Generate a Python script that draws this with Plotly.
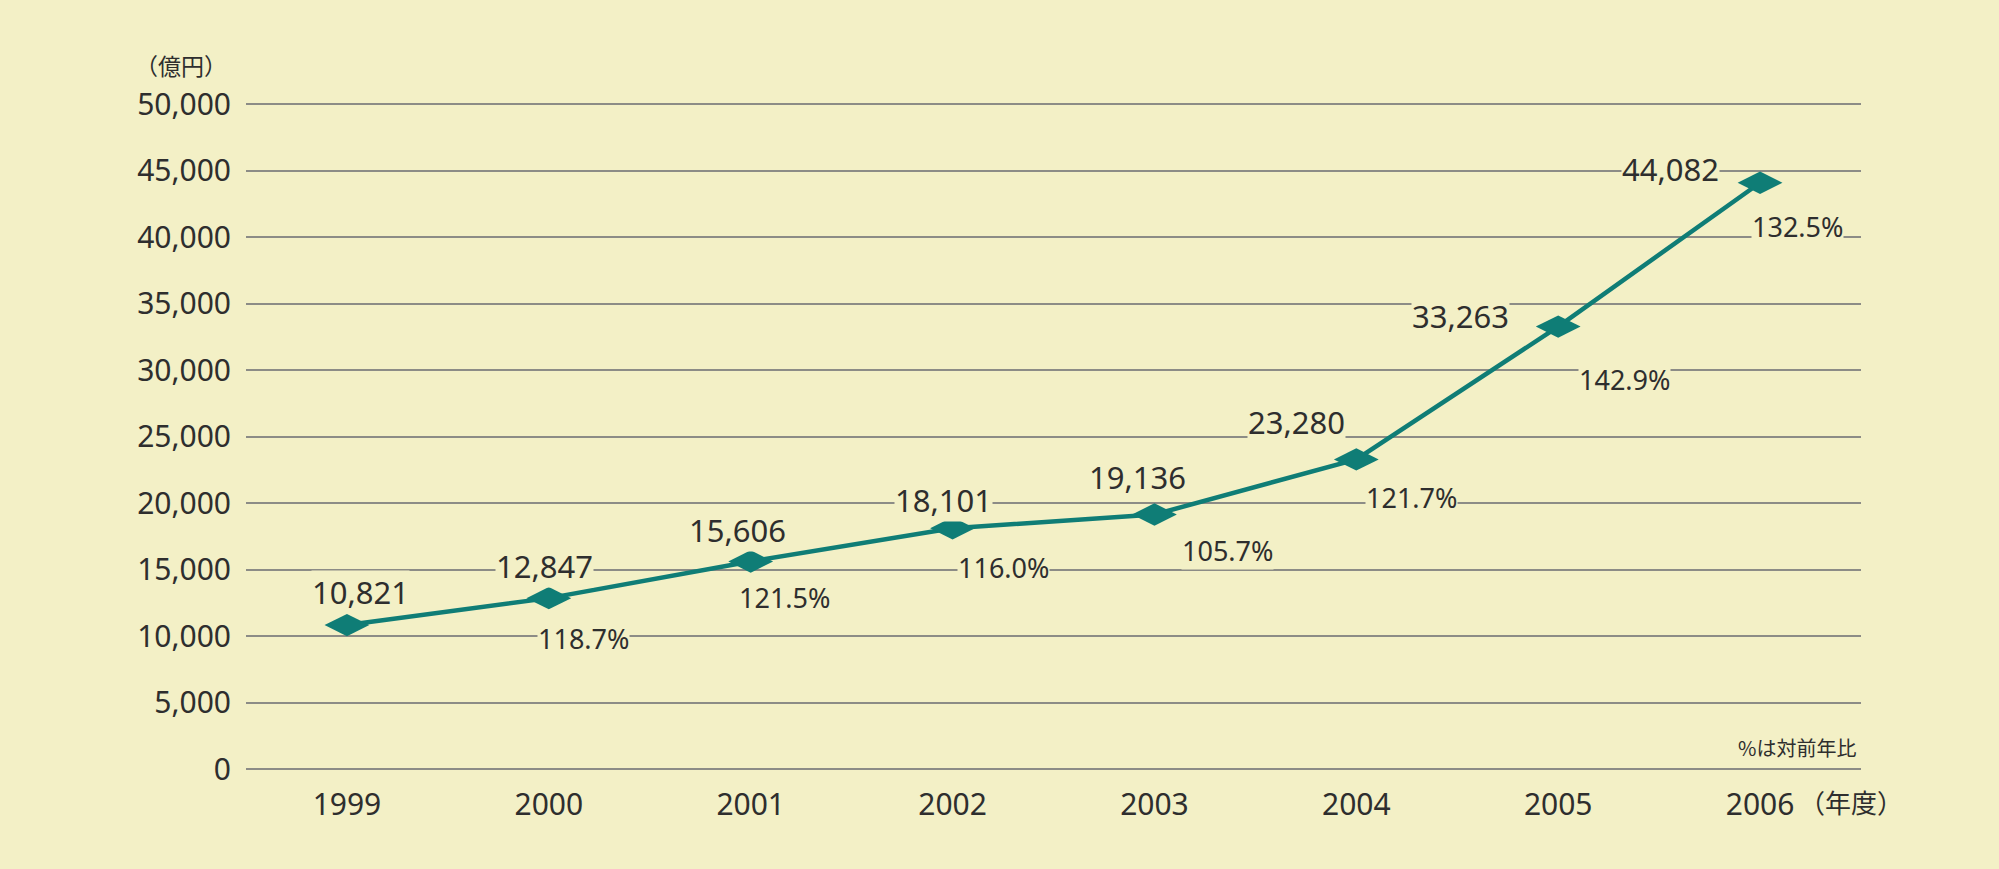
import plotly.graph_objects as go

years = ["1999", "2000", "2001", "2002", "2003", "2004", "2005", "2006"]
values = [10821, 12847, 15606, 18101, 19136, 23280, 33263, 44082]
ratios = [None, "118.7%", "121.5%", "116.0%", "105.7%", "121.7%", "142.9%", "132.5%"]
y_ticks = [0, 5000, 10000, 15000, 20000, 25000, 30000, 35000, 40000, 45000, 50000]

BG = "#F3F0C6"
TEAL = "#0F7D76"
TXT = "#2E2E2E"
FONT = "Noto Sans, Liberation Sans, Arial, sans-serif"

# label offsets in pixels (value label, ratio label)
val_off = [(14, -33), (-4, -32), (-13, -31), (-9, -28), (-17, -37), (-60, -37), (-98, -11), (-90, -14)]
pct_off = [None, (35, 40), (34, 36), (51, 39), (73, 36), (55, 38), (66, 53), (37, 44)]

fig = go.Figure()
fig.add_trace(go.Scatter(
    x=years, y=values, mode="lines+markers",
    line=dict(color=TEAL, width=4.5),
    marker=dict(symbol="diamond-wide", size=32, color=TEAL),
    hoverinfo="skip", showlegend=False,
))

annotations = []
for i, v in enumerate(values):
    dx, dy = val_off[i]
    annotations.append(dict(
        x=i, y=v, xref="x", yref="y", text=f"{v:,}", showarrow=False,
        xshift=dx, yshift=-dy, font=dict(family=FONT, size=31, color=TXT),
        bgcolor=BG, borderpad=0,
    ))
    if ratios[i]:
        px, py = pct_off[i]
        annotations.append(dict(
            x=i, y=v, xref="x", yref="y", text=ratios[i], showarrow=False,
            xshift=px, yshift=-py, font=dict(family=FONT, size=27, color=TXT),
            bgcolor=BG, borderpad=0,
        ))

# plot area: value 0 at y=769px, 50000 at y=104px; extend range by 7px each side
W, H = 1999, 869
L, R = 246, 138
PAD_PX = 7
T, B = 104 - PAD_PX, (H - 769) - PAD_PX
per_px = 50000 / 665
y_range = [-PAD_PX * per_px, 50000 + PAD_PX * per_px]
pw, ph = W - L - R, H - T - B

extra = [
    dict(x=181, y=65, text="（億円）", font=dict(family="Noto Sans CJK JP", size=23, color=TXT)),
    dict(x=1858, y=747, text="%は対前年比", xanchor="right", font=dict(family="Noto Sans CJK JP", size=20, color=TXT)),
    dict(x=1851, y=801, text="（年度）", font=dict(family="Noto Sans CJK JP", size=26, color=TXT)),
]
for a in extra:
    a["x"] = (a["x"] - L) / pw
    a["y"] = (H - a["y"] - B) / ph
    a["xref"] = "paper"
    a["yref"] = "paper"
    a["showarrow"] = False
    a["yanchor"] = "middle"
    a.setdefault("xanchor", "center")
    annotations.append(a)

fig.update_layout(
    width=W, height=H,
    margin=dict(l=L, r=R, t=T, b=B, pad=0),
    paper_bgcolor=BG, plot_bgcolor=BG,
    annotations=annotations,
    xaxis=dict(type="category", range=[-0.5, 7.5], showgrid=False, zeroline=False, showline=False,
               ticks="", tickfont=dict(family=FONT, size=30, color=TXT), ticklabelstandoff=8),
    yaxis=dict(range=y_range, tickvals=y_ticks, ticktext=[f"{t:,}" for t in y_ticks],
               showgrid=True, gridcolor="#8C8C86", gridwidth=2, zeroline=False, showline=False,
               ticks="", tickfont=dict(family=FONT, size=30, color=TXT), ticklabelstandoff=14),
)

fig.write_html("out.html")
